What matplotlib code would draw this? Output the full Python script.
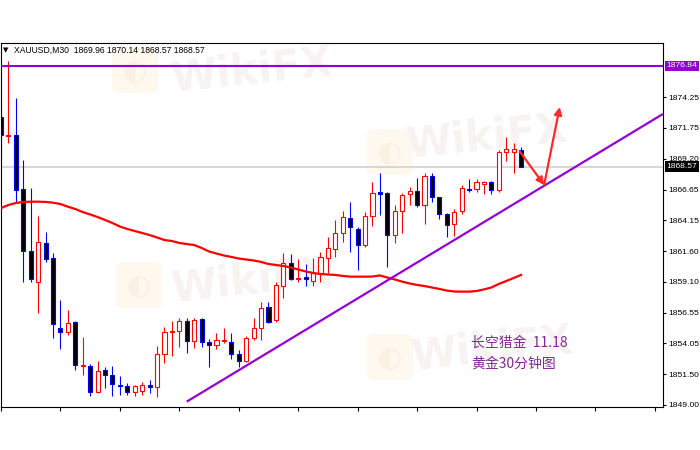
import matplotlib
matplotlib.use("Agg")
import matplotlib.pyplot as plt
from matplotlib.patches import FancyBboxPatch
import matplotlib.transforms as mtransforms

# ---------------- data ----------------
opens = [1872.66, 1871.05, 1871.16, 1866.72, 1861.63, 1859.11, 1862.26, 1861.03, 1855.33, 1854.95,
         1855.82, 1852.20, 1852.20, 1850.07, 1851.85, 1851.44, 1850.62, 1850.54, 1850.07, 1850.15,
         1850.62, 1850.48, 1853.14, 1854.95, 1855.06, 1855.90, 1854.26, 1856.04, 1854.13, 1853.90,
         1854.20, 1854.18, 1853.14, 1852.59, 1854.46, 1855.28, 1857.05, 1855.96, 1858.75, 1860.67,
         1859.35, 1859.47, 1859.19, 1859.80, 1861.03, 1861.77, 1863.08, 1864.37, 1863.44, 1862.12,
         1864.50, 1866.45, 1866.37, 1862.94, 1864.94, 1866.29, 1866.58, 1865.41, 1867.79, 1866.04,
         1864.67, 1863.85, 1864.94, 1866.75, 1866.70, 1867.14, 1867.32, 1866.64, 1869.79, 1869.76,
         1869.96]
highs = [1873.36, 1877.20, 1874.18, 1869.11, 1866.78, 1864.53, 1863.17, 1861.44, 1857.60, 1856.78,
         1855.85, 1854.59, 1852.32, 1852.59, 1852.12, 1852.18, 1851.36, 1850.76, 1850.62, 1850.89,
         1851.03, 1853.82, 1855.41, 1855.90, 1856.10, 1856.10, 1856.10, 1856.10, 1854.40, 1854.92,
         1855.28, 1854.87, 1853.50, 1854.65, 1856.10, 1857.46, 1857.46, 1859.10, 1861.44, 1861.38,
         1860.95, 1860.56, 1861.03, 1861.57, 1862.80, 1864.18, 1864.94, 1865.68, 1863.63, 1864.86,
         1867.32, 1868.06, 1866.50, 1865.41, 1866.42, 1866.86, 1867.60, 1868.06, 1868.01, 1866.10,
         1864.72, 1865.06, 1867.05, 1867.52, 1867.52, 1867.35, 1867.40, 1869.93, 1870.97, 1870.48,
         1870.14]
lows = [1869.38, 1870.48, 1865.68, 1859.11, 1859.10, 1856.51, 1860.75, 1854.46, 1853.58, 1854.73,
        1851.85, 1851.44, 1849.74, 1850.00, 1850.40, 1849.74, 1849.80, 1849.80, 1849.74, 1849.80,
        1849.94, 1849.66, 1852.45, 1853.00, 1853.77, 1853.27, 1853.63, 1853.77, 1852.12, 1853.55,
        1854.05, 1852.73, 1852.07, 1852.53, 1854.32, 1854.32, 1855.69, 1855.82, 1857.74, 1859.25,
        1859.10, 1858.75, 1858.75, 1859.11, 1859.85, 1861.16, 1862.39, 1861.57, 1860.07, 1861.98,
        1863.68, 1864.59, 1860.29, 1862.26, 1863.08, 1865.41, 1865.27, 1863.85, 1865.68, 1864.23,
        1862.80, 1862.86, 1864.67, 1866.50, 1866.50, 1866.31, 1866.31, 1866.50, 1869.05, 1868.06,
        1868.57]
closes = [1871.16, 1871.15, 1866.64, 1861.63, 1859.33, 1862.39, 1860.97, 1855.61, 1854.95, 1855.69,
          1852.26, 1852.30, 1850.02, 1851.77, 1851.44, 1850.70, 1850.55, 1850.07, 1850.54, 1850.62,
          1850.43, 1853.14, 1854.95, 1855.05, 1855.90, 1854.26, 1855.96, 1854.13, 1853.90, 1854.32,
          1854.30, 1853.17, 1852.59, 1854.46, 1855.28, 1856.92, 1855.82, 1858.84, 1860.67, 1859.30,
          1859.45, 1859.30, 1859.80, 1861.16, 1861.85, 1863.08, 1864.45, 1863.63, 1862.12, 1864.50,
          1866.42, 1866.35, 1862.94, 1864.94, 1866.23, 1866.58, 1865.41, 1867.79, 1866.04, 1864.67,
          1863.77, 1864.86, 1866.78, 1866.68, 1867.32, 1867.32, 1866.64, 1869.79, 1869.99, 1869.99,
          1868.57]
moving_avg = [1865.16, 1865.41, 1865.57, 1865.66, 1865.68, 1865.68, 1865.66, 1865.60, 1865.49, 1865.27,
              1865.08, 1864.83, 1864.63, 1864.42, 1864.18, 1863.93, 1863.64, 1863.44, 1863.27, 1863.11,
              1862.94, 1862.74, 1862.53, 1862.45, 1862.29, 1862.20, 1862.12, 1861.88, 1861.59, 1861.42,
              1861.26, 1861.14, 1861.01, 1860.93, 1860.85, 1860.73, 1860.56, 1860.48, 1860.40, 1860.27,
              1860.11, 1859.95, 1859.82, 1859.74, 1859.70, 1859.66, 1859.58, 1859.52, 1859.52, 1859.52,
              1859.53, 1859.62, 1859.45, 1859.29, 1859.11, 1858.96, 1858.84, 1858.75, 1858.63, 1858.51,
              1858.38, 1858.30, 1858.29, 1858.29, 1858.34, 1858.47, 1858.63, 1858.92, 1859.16, 1859.41,
              1859.66]

ytick_values = [1849.00, 1851.50, 1854.05, 1856.55, 1859.10, 1861.60, 1864.15, 1866.65, 1869.20, 1871.75, 1874.25]
ytick_labels = ["1849.00", "1851.50", "1854.05", "1856.55", "1859.10", "1861.60", "1864.15", "1866.65", "1869.20", "1871.75", "1874.25"]
resistance_level = 1876.84
last_price = 1868.57
trend_start = (25.0, 1849.25)
trend_end = (89.1, 1872.89)
arrow_down = [(69.85, 1869.79), (73.1, 1867.05)]
arrow_up = [(73.1, 1867.05), (75.2, 1873.46)]
header = "XAUUSD,M30  1869.96 1870.14 1868.57 1868.57"
note_line1 = "长空猎金  11.18"
note_line2 = "黄金30分钟图"

# ---------------- figure ----------------
W, H = 700, 450
fig = plt.figure(figsize=(7, 4.5), dpi=100)
fig.patch.set_facecolor("white")

# watermarks (very faint, drawn beneath the chart)
wm_logo_centers = [(135, 70), (390, 152), (139, 285), (390, 357)]
wm_text_centers = [(252, 72), (487, 138), (252, 282), (492, 350)]
for (cx, cy) in wm_logo_centers:
    s = 46
    p = FancyBboxPatch(((cx - s / 2) / W, 1 - (cy + s / 2) / H), s / W, s / H,
                       boxstyle="round,pad=0,rounding_size=0.012", transform=fig.transFigure,
                       facecolor="#fef8ee", edgecolor="none", zorder=-2)
    fig.patches.append(p)
    fig.text(cx / W, 1 - cy / H, "◐", fontsize=20, color="#faf0e4", ha="center", va="center",
             family="DejaVu Sans", zorder=-1)
for (cx, cy) in wm_text_centers:
    fig.text(cx / W, 1 - cy / H, "WikiFX", fontsize=30, fontweight="bold", color="#f8f3f3",
             ha="center", va="center", rotation=6, family="DejaVu Sans", zorder=-1)

ax = fig.add_axes([1 / W, 1 - 407 / H, 662 / W, (407 - 43) / H])
ax.set_zorder(1)
ax.patch.set_alpha(0)

n = len(opens)
idx = list(range(n))
for i in idx:
    o, h, l, c = opens[i], highs[i], lows[i], closes[i]
    bull = c >= o
    col = "#ff0000" if bull else "#0000ff"
    ax.vlines(i, l, h, color=col, lw=0.8, zorder=2)
    bottom = min(o, c)
    height = max(abs(c - o), 0.02)
    ax.bar(i, height, bottom=bottom, width=0.55,
           facecolor="white" if bull else "black", edgecolor=col, lw=0.8, zorder=3)

ax.plot(idx, moving_avg, color="#ff0000", lw=1.6, zorder=4)

# horizontal resistance and current-price line
ax.axhline(resistance_level, color="#9400D3", lw=1.5, zorder=4)
ax.axhline(last_price, color="#d4d4d4", lw=1.3, zorder=1)

# trend line
ax.plot([trend_start[0], trend_end[0]], [trend_start[1], trend_end[1]],
        color="#9400D3", lw=1.6, zorder=4, solid_capstyle="butt")

# red arrows
for seg in (arrow_down, arrow_up):
    ax.annotate("", xy=seg[1], xytext=seg[0],
                arrowprops=dict(arrowstyle="-|>", color="#ff2a2a", lw=1.6,
                                mutation_scale=11, shrinkA=0, shrinkB=0), zorder=6)

ax.set_xlim(0, 89.1)
ax.set_ylim(1848.81, 1878.72)

for sp in ax.spines.values():
    sp.set_color("black")
    sp.set_linewidth(0.8)

ax.set_xticks(list(range(0, 89, 8)))
ax.set_xticklabels([])
ax.tick_params(axis="x", direction="out", length=3, width=0.8, color="black")

ax.yaxis.tick_right()
ax.set_yticks(ytick_values)
ax.set_yticklabels(ytick_labels)
ax.tick_params(axis="y", direction="out", length=2.5, width=0.8, color="black", pad=1.5,
               labelsize=6.1, labelcolor="black")
for t in ax.get_yticklabels():
    t.set_family("Liberation Sans")

# price boxes on the right axis
trans = mtransforms.blended_transform_factory(ax.transAxes, ax.transData)
ax.text(1.0055, resistance_level, "1876.84", transform=trans, fontsize=6.1, family="Liberation Sans",
        color="white", va="center", ha="left", clip_on=False, zorder=10,
        bbox=dict(facecolor="#9400D3", edgecolor="none", pad=1.1))
ax.text(1.0055, last_price, "1868.57", transform=trans, fontsize=6.1, family="Liberation Sans",
        color="white", va="center", ha="left", clip_on=False, zorder=10,
        bbox=dict(facecolor="black", edgecolor="none", pad=1.1))

# header
fig.text(5.5 / W, 1 - 50.5 / H, "▼", fontsize=5, color="black", ha="center", va="center",
         family="DejaVu Sans")
fig.text(14 / W, 1 - 50.5 / H, header, fontsize=6.2, color="black", ha="left", va="center",
         family="Liberation Sans")

# annotation text
fig.text(471 / W, 1 - 342.5 / H, note_line1, fontsize=10, color="#7f2a90", ha="left", va="center",
         family=["Noto Sans CJK SC", "DejaVu Sans"])
fig.text(471 / W, 1 - 364 / H, note_line2, fontsize=10, color="#7f2a90", ha="left", va="center",
         family=["Noto Sans CJK SC", "DejaVu Sans"])

fig.savefig("out.png", dpi=100, facecolor="white")
